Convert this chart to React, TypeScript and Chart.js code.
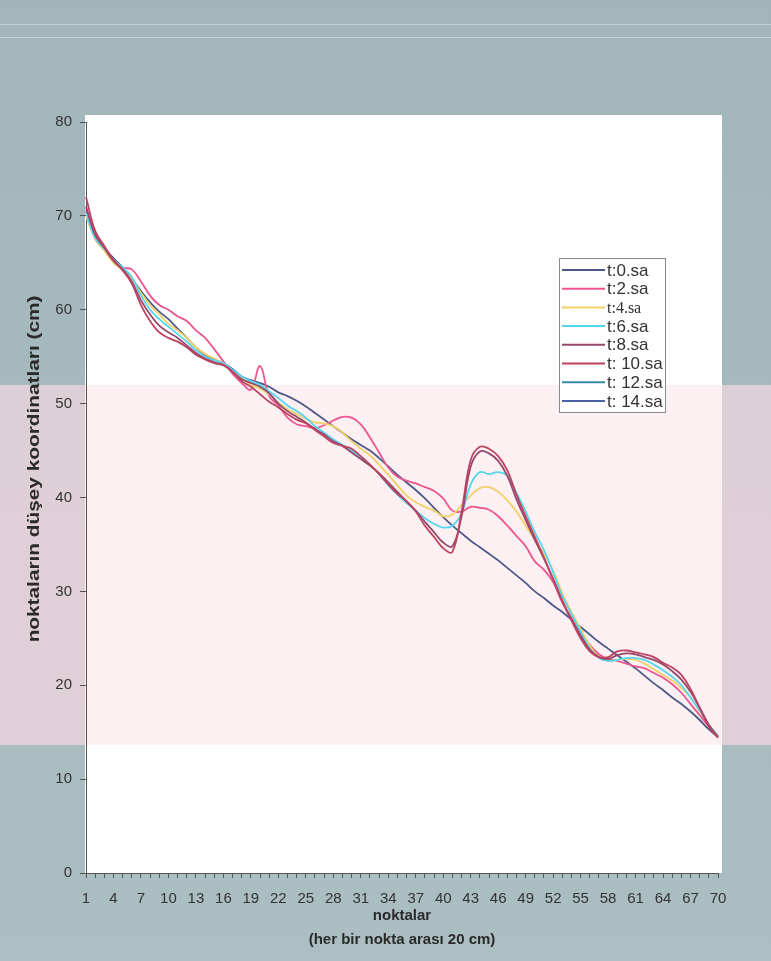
import React, { useEffect, useRef } from 'react';
import { Chart, registerables } from 'chart.js';
Chart.register(...registerables);

const categories = ['1','2','3','4','5','6','7','8','9','10','11','12','13','14','15','16','17','18','19','20','21','22','23','24','25','26','27','28','29','30','31','32','33','34','35','36','37','38','39','40','41','42','43','44','45','46','47','48','49','50','51','52','53','54','55','56','57','58','59','60','61','62','63','64','65','66','67','68','69','70'];

const seriesLabels = ['t:0.sa', 't:2.sa', 't:4.sa', 't:6.sa', 't:8.sa', 't: 10.sa', 't: 12.sa', 't: 14.sa'];
const seriesColors = ['#4b5a88', '#ec5590', '#f2d06a', '#56d5ef', '#94496c', '#bd4361', '#2f8aa5', '#4a62a5'];

const t0 = [70.5,68.0,66.6,65.5,64.5,63.3,62.0,60.8,59.8,59.0,58.0,57.0,56.0,55.2,54.7,54.3,53.7,52.9,52.5,52.2,51.8,51.2,50.8,50.3,49.7,49.0,48.3,47.6,46.9,46.2,45.6,45.0,44.2,43.3,42.4,41.6,40.8,39.9,38.9,37.9,37.0,36.2,35.4,34.7,34.0,33.3,32.5,31.7,30.9,30.0,29.3,28.5,27.8,27.0,26.2,25.4,24.6,23.9,23.2,22.5,21.8,21.0,20.2,19.5,18.7,18.0,17.2,16.3,15.3,14.5];
const t2 = [70.8,68.0,66.5,65.3,64.5,64.3,63.0,61.5,60.5,60.0,59.3,58.8,57.8,57.0,55.8,54.5,53.2,52.2,51.5,54.0,50.8,49.8,48.5,47.8,47.6,47.4,47.7,48.2,48.6,48.5,47.8,46.4,44.8,43.2,42.2,41.8,41.5,41.1,40.7,39.9,38.6,38.5,39.0,38.9,38.7,38.0,37.0,35.9,34.8,33.2,32.3,31.0,28.8,27.2,25.6,24.3,23.3,22.8,22.6,22.3,22.0,21.8,21.3,20.8,20.1,19.2,18.0,16.8,15.6,14.6];
const t4 = [70.0,67.5,66.3,65.0,64.2,63.3,61.8,60.5,59.5,58.5,57.8,57.0,56.0,55.3,54.8,54.3,53.5,52.7,52.0,51.6,51.0,50.1,49.4,48.9,48.4,48.0,47.9,47.6,46.9,46.0,45.2,44.5,43.5,42.4,41.3,40.2,39.5,39.0,38.6,38.0,38.2,39.2,40.2,41.0,41.1,40.6,39.7,38.5,37.0,35.5,34.0,32.2,29.8,27.8,26.0,24.2,23.0,22.6,22.7,22.8,22.7,22.3,21.7,21.1,20.5,19.7,18.7,17.2,15.8,14.6];
const t6 = [70.3,67.6,66.5,65.3,64.5,63.5,61.5,60.0,59.0,58.2,57.4,56.6,55.7,55.0,54.6,54.3,53.6,52.9,52.4,52.0,51.3,50.6,49.8,49.2,48.5,47.6,46.9,46.2,45.6,45.0,44.3,43.5,42.5,41.3,40.3,39.4,38.6,37.8,37.2,36.8,37.0,38.3,41.4,42.7,42.5,42.7,42.3,40.5,38.5,36.3,34.4,32.0,29.5,27.6,25.7,23.9,22.9,22.6,22.7,22.9,22.9,22.7,22.2,21.6,20.9,20.0,18.7,17.3,15.8,14.6];
const t8 = [71.0,68.0,66.6,65.2,64.3,63.0,61.0,59.5,58.3,57.6,57.0,56.2,55.4,54.8,54.4,54.1,53.4,52.6,52.2,51.8,51.1,50.0,49.2,48.6,48.0,47.3,46.7,46.0,45.5,44.8,44.1,43.4,42.6,41.6,40.6,39.6,38.6,37.4,36.3,35.2,34.8,38.0,43.3,44.9,44.7,43.9,42.3,39.8,37.6,35.5,33.5,31.3,29.0,27.0,25.3,23.8,23.0,22.8,23.2,23.4,23.3,23.0,22.7,22.2,21.5,20.6,19.3,17.6,15.8,14.5];
const t10 = [72.0,68.4,66.8,65.3,64.2,62.8,60.5,58.8,57.6,57.0,56.6,56.0,55.2,54.7,54.3,54.1,53.4,52.4,51.8,51.0,50.2,49.6,48.9,48.3,47.9,47.2,46.5,45.8,45.5,45.2,44.4,43.5,42.5,41.4,40.4,39.6,38.5,37.0,35.8,34.6,34.2,38.5,44.0,45.4,45.2,44.4,42.9,40.3,38.0,35.8,33.6,31.3,29.0,26.9,25.0,23.6,23.0,23.0,23.6,23.7,23.5,23.3,23.0,22.4,21.9,21.1,19.6,17.6,15.6,14.4];
const t12: number[] = [];
const t14: number[] = [];
const seriesData = [t0, t2, t4, t6, t8, t10, t12, t14];

const yTicks = [0, 10, 20, 30, 40, 50, 60, 70, 80];
const xTitle = ['noktalar', '(her bir nokta arası 20 cm)'];
const yTitle = 'noktaların düşey koordinatları (cm)';

const FONT = '"Liberation Sans", Arial, sans-serif';

const bgPlugin = {
  id: 'bgPlugin',
  beforeDraw(chart: any) {
    const { ctx, chartArea: ca, width, height } = chart;
    ctx.save();
    const g = ctx.createLinearGradient(0, 0, 0, height);
    g.addColorStop(0, '#a2b5ba');
    g.addColorStop(1, '#abbec1');
    ctx.fillStyle = g;
    ctx.fillRect(0, 0, width, height);
    ctx.fillStyle = 'rgba(225,233,235,0.55)';
    ctx.fillRect(0, 24, width, 1);
    ctx.fillRect(0, 37, width, 1);
    ctx.fillStyle = 'rgba(248,218,226,0.68)';
    ctx.fillRect(0, 385, width, 360);
    ctx.fillStyle = '#ffffff';
    ctx.fillRect(ca.left - 1, ca.top - 7, ca.right - ca.left + 5, ca.bottom - ca.top + 7);
    ctx.restore();
  },
  beforeDatasetsDraw(chart: any) {
    const { ctx, chartArea: ca } = chart;
    ctx.save();
    ctx.fillStyle = 'rgba(236,80,110,0.085)';
    ctx.fillRect(ca.left - 1, 385, ca.right - ca.left + 5, 360);
    ctx.restore();
  },
};

const overlayPlugin = {
  id: 'overlayPlugin',
  afterDraw(chart: any) {
    const { ctx } = chart;
    ctx.save();
    ctx.translate(35, 469);
    ctx.rotate(-Math.PI / 2);
    ctx.scale(1.3, 1);
    ctx.font = 'bold 16px ' + FONT;
    ctx.textAlign = 'center';
    ctx.textBaseline = 'middle';
    ctx.fillStyle = '#2a2a2a';
    ctx.fillText(yTitle, 0, 0);
    ctx.restore();

    ctx.save();
    const bx = 559, by = 258, bw = 106, bh = 154;
    ctx.fillStyle = '#ffffff';
    ctx.fillRect(bx, by, bw, bh);
    ctx.strokeStyle = '#8a8a8a';
    ctx.lineWidth = 1;
    ctx.strokeRect(bx + 0.5, by + 0.5, bw, bh);
    chart.data.datasets.forEach((ds: any, i: number) => {
      const y = 270 + i * 18.7;
      ctx.strokeStyle = ds.borderColor;
      ctx.lineWidth = 2;
      ctx.beginPath();
      ctx.moveTo(562, y);
      ctx.lineTo(605, y);
      ctx.stroke();
      ctx.fillStyle = '#333333';
      ctx.textAlign = 'left';
      ctx.textBaseline = 'middle';
      ctx.font = i === 2 ? '16px "Liberation Serif", serif' : '17px ' + FONT;
      ctx.fillText(ds.label, 607, y + 1);
    });
    ctx.restore();
  },
};

export default function App() {
  const ref = useRef<HTMLCanvasElement | null>(null);
  useEffect(() => {
    document.body.style.margin = '0';
    if (!ref.current) return;
    const chart = new Chart(ref.current, {
      type: 'line',
      data: {
        labels: categories,
        datasets: seriesData.map((d, i) => ({
          label: seriesLabels[i],
          data: d,
          borderColor: seriesColors[i],
          backgroundColor: seriesColors[i],
          borderWidth: 1.8,
          pointRadius: 0,
          tension: 0.4,
          fill: false,
          order: 8 - i,
        })),
      },
      options: {
        responsive: false,
        animation: false,
        layout: { padding: { top: 122, right: 53, left: 0, bottom: 0 } },
        plugins: { legend: { display: false }, tooltip: { enabled: false } },
        scales: {
          x: {
            type: 'category',
            offset: false,
            grid: { display: true, drawOnChartArea: false, tickLength: 5, color: '#555555' },
            border: { color: '#555555', width: 1 },
            ticks: {
              autoSkip: false,
              maxRotation: 0,
              minRotation: 0,
              padding: 12,
              color: '#333333',
              font: { size: 15, family: FONT },
              callback: (_v: any, i: number) => (i % 3 === 0 ? categories[i] : ''),
            },
            title: {
              display: true,
              text: xTitle,
              color: '#2a2a2a',
              font: { size: 15, weight: 'bold', family: FONT, lineHeight: 1.6 },
              padding: { top: 0, bottom: 9 },
            },
            afterFit: (s: any) => { s.height = 88; },
          },
          y: {
            min: 0,
            max: 80,
            afterBuildTicks: (s: any) => { s.ticks = yTicks.map((v) => ({ value: v })); },
            grid: { display: true, drawOnChartArea: false, tickLength: 6, color: '#555555' },
            border: { color: '#555555', width: 1 },
            ticks: { padding: 8, color: '#333333', font: { size: 15, family: FONT } },
            afterFit: (s: any) => { s.width = 86; },
          },
        },
      },
      plugins: [bgPlugin, overlayPlugin],
    } as any);
    return () => chart.destroy();
  }, []);
  return (
    <div style={{ position: 'absolute', left: 0, top: 0, width: 771, height: 961 }}>
      <canvas ref={ref} width={771} height={961} style={{ display: 'block', width: 771, height: 961 }} />
    </div>
  );
}
